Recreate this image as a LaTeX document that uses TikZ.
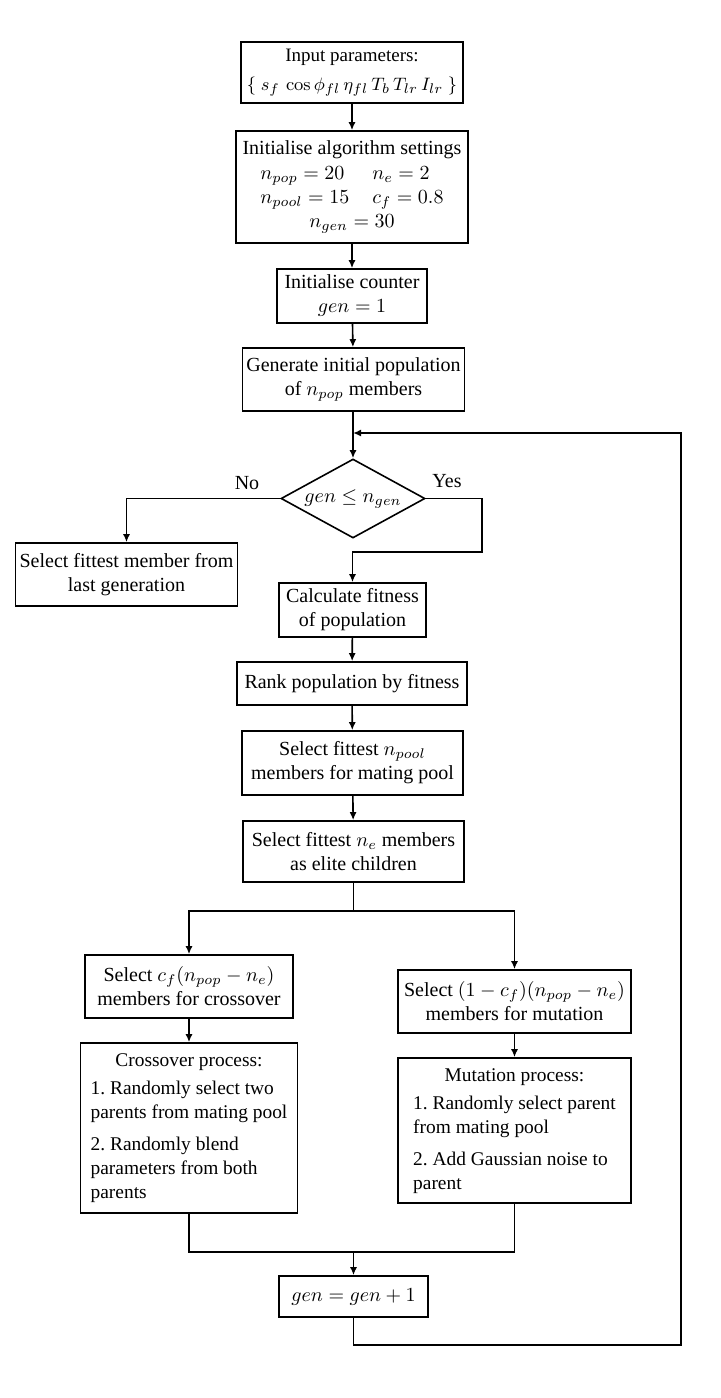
\documentclass[tikz,border=0pt]{standalone}
\usepackage{amsmath}
\usepackage{amssymb}
\usepackage[no-math]{fontspec}
\setmainfont{Liberation Serif}
\usepackage{tikz}
\usetikzlibrary{arrows.meta,shapes.geometric}
\frenchspacing

\tikzset{
  box/.style={draw, line width=0.8pt, align=center, inner sep=2pt},
  procbox/.style={box, inner sep=1pt, font=\fontsize{9.7}{12}\selectfont},
  decision/.style={draw, line width=0.8pt, diamond, aspect=1.82, inner sep=0pt, minimum width=72pt, minimum height=39.5pt},
  flow/.style={line width=0.8pt},
  >={Latex[length=4pt,width=3.5pt]}
}

\begin{document}
\begin{tikzpicture}[x=0.5pt,y=-0.5pt]
\useasboundingbox (0,0) rectangle (720,1398);

\node[box, font=\fontsize{9.5}{11.5}\selectfont, minimum width=111pt, minimum height=30.5pt] (input) at (352,72.5)
  {Input parameters:\\[3pt] $\{\ s_f\,\cos\phi_{fl}\,\eta_{fl}\,T_b\,T_{lr}\,I_{lr}\ \}$};
\node[box, minimum width=116pt, minimum height=56pt] (init) at (352,187)
  {Initialise algorithm settings\\[1pt]
   \begin{tabular}{@{}l@{\hspace{11.5pt}}l@{}}
   $n_{pop}=20$ & $n_e=2$\\
   $n_{pool}=15$ & $c_f=0.8$
   \end{tabular}\\[1pt]
   $n_{gen}=30$};
\node[box, minimum width=75pt, minimum height=27pt] (counter) at (352,296)
  {Initialise counter\\ $gen=1$};
\node[box, minimum width=110.5pt, minimum height=31.5pt] (genpop) at (353.5,379.5)
  {Generate initial population\\ of $n_{pop}$ members};
\node[decision] (check) at (353,498.5) {$gen\leq n_{gen}$};
\node[box, minimum width=109.5pt, minimum height=31.5pt] (best) at (126.5,574.5)
  {Select fittest member from\\ last generation};
\node[box, minimum width=73.5pt, minimum height=27pt] (fitness) at (352.5,610)
  {Calculate fitness\\ of population};
\node[box, minimum width=115pt, minimum height=21.5pt] (rank) at (352,683.5)
  {Rank population by fitness};
\node[box, minimum width=110.5pt, minimum height=32pt] (pool) at (352.5,763)
  {Select fittest $n_{pool}$\\ members for mating pool};
\node[box, minimum width=110.5pt, minimum height=30.5pt] (elite) at (353.5,851.5)
  {Select fittest $n_e$ members\\ as elite children};
\node[box, minimum width=104pt, minimum height=31.5pt] (crosssel) at (189,986.5)
  {Select $c_f(n_{pop}-n_e)$\\ members for crossover};
\node[procbox, minimum width=108.5pt, minimum height=85pt] (crossproc) at (189,1128)
  {\begin{tabular}{@{}l@{}}
   \multicolumn{1}{c}{Crossover process:}\\[2pt]
   1. Randomly select two\\
   parents from mating pool\\[4pt]
   2. Randomly blend\\
   parameters from both\\
   parents
   \end{tabular}};
\node[box, minimum width=116.5pt, minimum height=31.5pt] (mutsel) at (514.5,1001.5)
  {Select $(1-c_f)(n_{pop}-n_e)$\\ members for mutation};
\node[procbox, minimum width=116.5pt, minimum height=72.5pt] (mutproc) at (514.5,1130.5)
  {\begin{tabular}{@{}l@{}}
   \multicolumn{1}{c}{Mutation process:}\\[2pt]
   1. Randomly select parent\\
   from mating pool\\[4pt]
   2. Add Gaussian noise to\\
   parent
   \end{tabular}};
\node[box, minimum width=74.5pt, minimum height=20.5pt] (incr) at (353.5,1296.5)
  {$gen=gen+1$};

\node (no) at (247,483) {No};
\node (yes) at (447,481) {Yes};

\coordinate (yesdown) at (482,552);
\coordinate (split) at (353.5,911);
\coordinate (merge) at (353.5,1252);
\coordinate (loopcorner) at (681,1345);
\coordinate (loopin) at (353,433);

\draw[flow,->] (input) -- (init);
\draw[flow,->] (init) -- (counter);
\draw[flow,->] (counter) -- (genpop);
\draw[flow,->] (genpop.south -| check.north) -- (check.north);
\draw[flow,->] (check.west) -| (best.north);
\draw[flow,->] (check.east) -| (yesdown) -| (fitness.north);
\draw[flow,->] (fitness) -- (rank);
\draw[flow,->] (rank) -- (pool);
\draw[flow,->] (pool) -- (elite);
\draw[flow] (elite.south) -- (split);
\draw[flow,->] (split) -| (crosssel.north);
\draw[flow,->] (split) -| (mutsel.north);
\draw[flow,->] (crosssel) -- (crossproc);
\draw[flow,->] (mutsel) -- (mutproc);
\draw[flow] (crossproc.south) |- (merge);
\draw[flow] (mutproc.south) |- (merge);
\draw[flow,->] (merge) -- (incr.north);
\draw[flow,->] (incr.south) |- (loopcorner) |- (loopin);

\end{tikzpicture}
\end{document}
